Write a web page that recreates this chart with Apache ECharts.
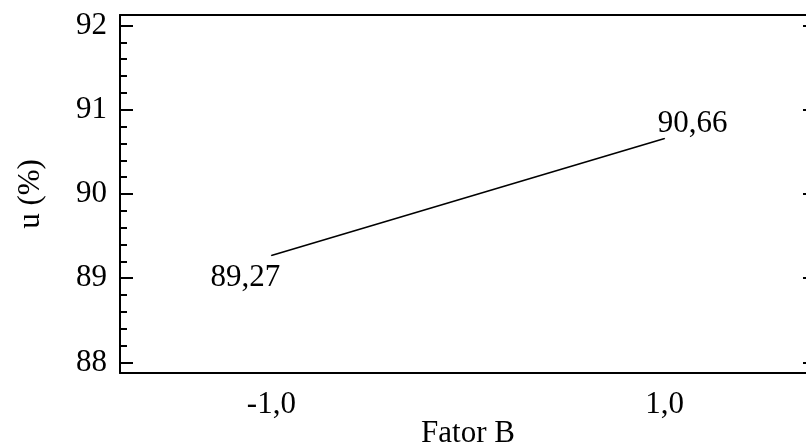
<!DOCTYPE html>
<html>
<head>
<meta charset="utf-8">
<script src="https://cdn.jsdelivr.net/npm/echarts@6/dist/echarts.min.js"></script>
<style>
  html, body { margin: 0; padding: 0; background: #ffffff; }
  #chart { width: 806px; height: 447px; }
</style>
</head>
<body>
<div id="chart"></div>
<script>
// Levels of Fator B and the predicted u (%) at each end
const fatorB = [-1.0, 1.0];
const uPercent = [89.27, 90.66];

// Tick positions and labels
const xTickValues = [-1.0, 1.0];
const yMajorTicks = [88, 89, 90, 91, 92];
const yMinorTicks = [88.2, 88.4, 88.6, 88.8, 89.2, 89.4, 89.6, 89.8,
                     90.2, 90.4, 90.6, 90.8, 91.2, 91.4, 91.6, 91.8];

const FONT = '"Liberation Serif", "DejaVu Serif", serif';
const FS = 31;
const INK = '#000000';
const decimalComma = (v, d) => v.toFixed(d).replace('.', ',');

// Where each end label sits relative to its point
const labelOffsets = [[-26, 22], [28, -15]];

const chart = echarts.init(document.getElementById('chart'), null, { renderer: 'canvas' });

const yRange = { min: 87.875, max: 92.125 };
const xRange = { min: -1.77, max: 1.77 };

chart.setOption({
  animation: false,
  backgroundColor: '#ffffff',
  grid: { left: 120, top: 15, width: 696, height: 358, containLabel: false, outerBoundsMode: 'none' },
  xAxis: [
    {
      type: 'value', position: 'bottom', ...xRange,
      name: 'Fator B', nameLocation: 'middle', nameGap: 45, nameMoveOverlap: false,
      nameTextStyle: { fontFamily: FONT, fontSize: FS, color: INK },
      axisLine: { show: true, onZero: false, lineStyle: { color: INK, width: 2 } },
      axisTick: { show: false },
      splitLine: { show: false },
      axisLabel: {
        customValues: xTickValues, margin: 16,
        fontFamily: FONT, fontSize: FS, color: INK,
        formatter: v => decimalComma(v, 1)
      }
    },
    {
      type: 'value', position: 'top', ...xRange,
      axisLine: { show: true, onZero: false, lineStyle: { color: INK, width: 2 } },
      axisTick: { show: false }, axisLabel: { show: false }, splitLine: { show: false }
    }
  ],
  yAxis: [
    {
      type: 'value', position: 'left', ...yRange,
      name: 'u (%)', nameLocation: 'middle', nameGap: 74, nameMoveOverlap: false,
      nameTextStyle: { fontFamily: FONT, fontSize: FS, color: INK },
      axisLine: { show: true, onZero: false, lineStyle: { color: INK, width: 2 } },
      axisTick: { show: true, inside: true, length: 13, customValues: yMajorTicks,
                  lineStyle: { color: INK, width: 2 } },
      axisLabel: { customValues: yMajorTicks, margin: 13,
                   fontFamily: FONT, fontSize: FS, color: INK,
                   formatter: v => String(Math.round(v)) },
      splitLine: { show: false }
    },
    {
      // minor ticks on the left edge
      type: 'value', position: 'left', offset: 0, ...yRange,
      axisLine: { show: false, onZero: false },
      axisTick: { show: true, inside: true, length: 7, customValues: yMinorTicks,
                  lineStyle: { color: INK, width: 2 } },
      axisLabel: { show: false }, splitLine: { show: false }
    },
    {
      // right edge with inward major ticks
      type: 'value', position: 'right', ...yRange,
      axisLine: { show: true, onZero: false, lineStyle: { color: INK, width: 2 } },
      axisTick: { show: true, inside: true, length: 13, customValues: yMajorTicks,
                  lineStyle: { color: INK, width: 2 } },
      axisLabel: { show: false }, splitLine: { show: false }
    }
  ],
  series: [
    {
      type: 'line',
      xAxisIndex: 0, yAxisIndex: 0,
      symbol: 'circle', symbolSize: 1,
      itemStyle: { color: INK },
      lineStyle: { color: INK, width: 1.6 },
      data: fatorB.map((x, i) => ({
        value: [x, uPercent[i]],
        label: {
          show: true, position: 'inside', offset: labelOffsets[i],
          align: 'center', verticalAlign: 'middle',
          fontFamily: FONT, fontSize: FS, color: INK,
          formatter: p => decimalComma(p.value[1], 2)
        }
      }))
    }
  ]
});
</script>
</body>
</html>
